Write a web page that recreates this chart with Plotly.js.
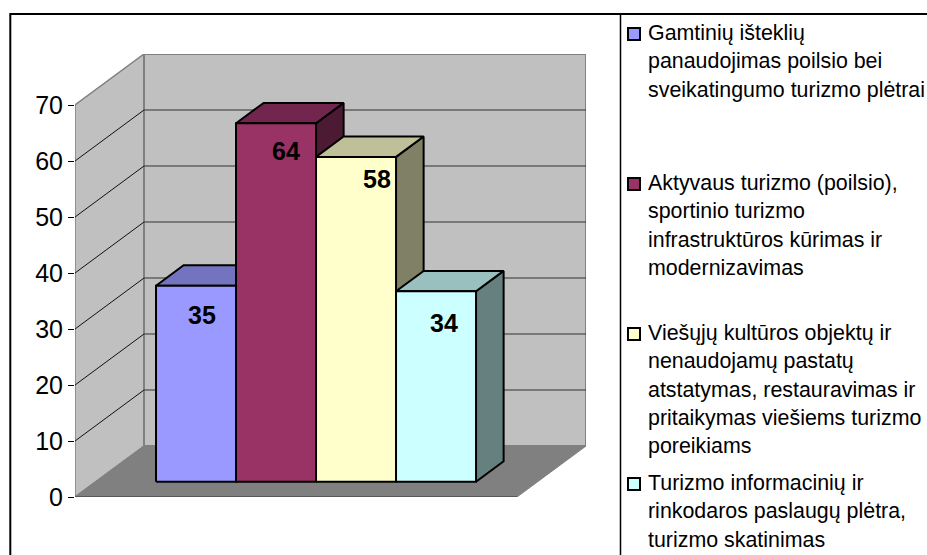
<!DOCTYPE html>
<html>
<head>
<meta charset="utf-8">
<script src="https://cdn.plot.ly/plotly-3.0.1.min.js"></script>
<style>html,body{margin:0;padding:0;background:#fff;overflow:hidden}</style>
</head>
<body>
<div id="chart" style="width:927px;height:555px"></div>
<script>
// ---- data ----
const categories = [
  "Gamtinių išteklių panaudojimas poilsio bei sveikatingumo turizmo plėtrai",
  "Aktyvaus turizmo (poilsio), sportinio turizmo infrastruktūros kūrimas ir modernizavimas",
  "Viešųjų kultūros objektų ir nenaudojamų pastatų atstatymas, restauravimas ir pritaikymas viešiems turizmo poreikiams",
  "Turizmo informacinių ir rinkodaros paslaugų plėtra, turizmo skatinimas"
];
const values = [35, 64, 58, 34];
const yTicks = [0, 10, 20, 30, 40, 50, 60, 70];
const legendLines = [
  ["Gamtinių išteklių", "panaudojimas poilsio bei", "sveikatingumo turizmo plėtrai"],
  ["Aktyvaus turizmo (poilsio),", "sportinio turizmo", "infrastruktūros kūrimas ir", "modernizavimas"],
  ["Viešųjų kultūros objektų ir", "nenaudojamų pastatų", "atstatymas, restauravimas ir", "pritaikymas viešiems turizmo", "poreikiams"],
  ["Turizmo informacinių ir", "rinkodaros paslaugų plėtra,", "turizmo skatinimas"]
];
// ---- styles ----
const frontColors = ["#9999FF", "#993366", "#FFFFCC", "#CCFFFF"];
const topColors   = ["#7373BF", "#73264D", "#BFBF99", "#99BFBF"];
const sideColors  = ["#4D4D80", "#4D1A33", "#808066", "#668080"];
const labelShiftX = [6, 10, 21, 8];
const labelShiftY = [-29, -28, -22, -32];
const legendMarkerY = [34, 184, 334, 484];
const legendTextY = [33, 183, 333, 483];

// ---- geometry (page pixels) ----
const W = 927, H = 555;
const plotL = 75, plotR = 586, plotT = 54, plotB = 497;
const pxPerUnit = 5.6, slotPx = 80;
const depthPxX = 69, depthPxY = 51;
const floorWidth = 442 / slotPx;
const firstBar = 0.754;
const barFrontDepth = 0.30, barBackDepth = 0.70;

// project (slot position, value, depth 0..1) to axis coordinates
function P(u, v, d) { return [u + d * depthPxX / slotPx, v + d * depthPxY / pxPerUnit]; }
function face(points, fill, line, width, name) {
  const xy = points.map(p => P(p[0], p[1], p[2]));
  const closed = xy.concat([xy[0]]);
  return { type: "scatter", mode: "lines", x: closed.map(p => p[0]), y: closed.map(p => p[1]),
    fill: "toself", fillcolor: fill, line: { color: line, width: width },
    hoverinfo: "skip", showlegend: false, cliponaxis: false, name: name || "" };
}
function segs(points, color, width) {
  const xy = points.map(p => P(p[0], p[1], p[2]));
  return { type: "scatter", mode: "lines", x: xy.map(p => p[0]), y: xy.map(p => p[1]),
    line: { color: color, width: width }, hoverinfo: "skip", showlegend: false, cliponaxis: false };
}
const yMax = yTicks[yTicks.length - 1];
const traces = [];
// walls and floor
traces.push(face([[0,0,0],[0,yMax,0],[0,yMax,1],[0,0,1]], "#C0C0C0", "#808080", 1.5));
traces.push(face([[0,0,1],[0,yMax,1],[floorWidth,yMax,1],[floorWidth,0,1]], "#C0C0C0", "#808080", 2));
traces.push(face([[0,0,0],[floorWidth,0,0],[floorWidth,0,1],[0,0,1]], "#808080", "#808080", 1));
traces.push(segs([[0,0,0],[floorWidth,0,0]], "#333333", 1));
// gridlines
yTicks.filter(v => v > 0 && v < yMax).forEach(v => {
  traces.push(segs([[0,v,0],[0,v,1]], "#111111", 1));
  traces.push(segs([[0,v,1],[floorWidth,v,1]], "#333333", 1.2));
});
// bars
const BL = 2;
values.forEach((v, i) => {
  const a = firstBar + i, b = a + 1;
  const f = barFrontDepth, k = barBackDepth;
  traces.push(face([[b,0,f],[b,v,f],[b,v,k],[b,0,k]], sideColors[i], "#000", BL));
  traces.push(face([[a,v,f],[b,v,f],[b,v,k],[a,v,k]], topColors[i], "#000", BL));
  traces.push(face([[a,0,f],[b,0,f],[b,v,f],[a,v,f]], frontColors[i], "#000", BL, categories[i]));
});

const font = "Liberation Sans, Arial, sans-serif";
const annotations = values.map((v, i) => {
  const p = P(firstBar + i + 0.5, v, barFrontDepth);
  return { x: p[0], y: p[1], xref: "x", yref: "y", text: "<b>" + v + "</b>", showarrow: false,
    xshift: labelShiftX[i], yshift: labelShiftY[i], xanchor: "center", yanchor: "middle",
    font: { family: font, size: 25, color: "#000" } };
});
const lineStep = 28.3;
const shapes = [];
legendLines.forEach((lines, i) => {
  lines.forEach((t, j) => {
    annotations.push({ x: 646 / W, y: 1 - (legendTextY[i] + j * lineStep) / H, xref: "paper", yref: "paper",
      text: t, showarrow: false, xanchor: "left", yanchor: "middle",
      font: { family: font, size: 21.4, color: "#000" } });
  });
  shapes.push({ type: "rect", xref: "paper", yref: "paper",
    x0: 628 / W, x1: 640 / W, y0: 1 - (legendMarkerY[i] + 6) / H, y1: 1 - (legendMarkerY[i] - 6) / H,
    fillcolor: frontColors[i], line: { color: "#000", width: 2 } });
});
// frame
[[10.3,14,927,14,2],[10.3,13,10.3,555,2],[620.5,14,620.5,555,1.5]].forEach(s => {
  shapes.push({ type: "line", xref: "paper", yref: "paper", x0: s[0] / W, y0: 1 - s[1] / H, x1: s[2] / W, y1: 1 - s[3] / H,
    line: { color: "#000", width: s[4] } });
});

const layout = {
  width: W, height: H, autosize: false, showlegend: false,
  paper_bgcolor: "#fff", plot_bgcolor: "rgba(0,0,0,0)",
  margin: { l: 0, r: 0, t: 0, b: 0, pad: 0 },
  xaxis: { domain: [plotL / W, plotR / W], range: [0, (plotR - plotL) / slotPx], visible: false, fixedrange: true },
  yaxis: { domain: [1 - plotB / H, 1 - plotT / H], range: [0, (plotB - plotT) / pxPerUnit], fixedrange: true,
    tickmode: "array", tickvals: yTicks, ticktext: yTicks.map(String), ticks: "outside", ticklen: 6, tickwidth: 1, tickcolor: "#000",
    showgrid: false, zeroline: false, showline: false, ticklabelstandoff: 0,
    tickfont: { family: font, size: 25, color: "#000" } },
  annotations: annotations, shapes: shapes
};
Plotly.newPlot("chart", traces, layout, { displayModeBar: false, staticPlot: true });
</script>
</body>
</html>
